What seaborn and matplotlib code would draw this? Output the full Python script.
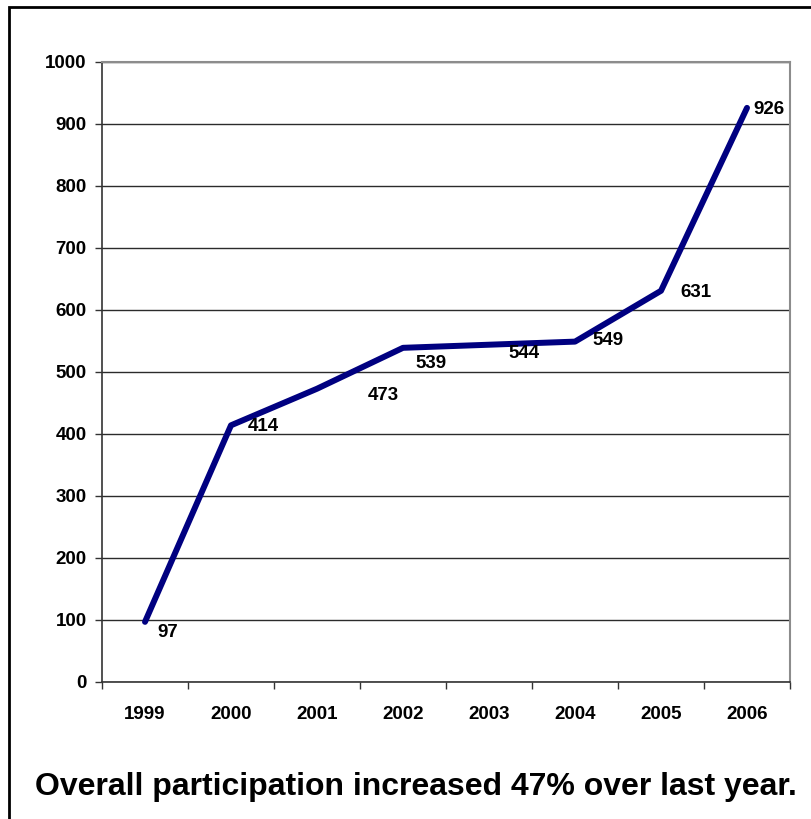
#!/usr/bin/env python3
"""
Participation by year, 1999-2006.
"""

import matplotlib
matplotlib.use("Agg")
import matplotlib.pyplot as plt
from matplotlib.patches import Rectangle
from matplotlib.ticker import FixedLocator, MultipleLocator
import seaborn as sns
import pandas as pd

years = ["1999", "2000", "2001", "2002", "2003", "2004", "2005", "2006"]
participants = [97, 414, 473, 539, 544, 549, 631, 926]
caption = "Overall participation increased 47% over last year."

# label centre offsets in points (hand placed in the original)
label_offsets = [(16.5, -8), (23, -1), (47.5, -5), (20, -11.5), (25, -6), (24, 1), (25, -1.5), (16, -1.5)]

sns.set_theme(style="white")
plt.rcParams["font.family"] = ["Liberation Sans", "DejaVu Sans"]

df = pd.DataFrame({"pos": range(len(years)), "year": years, "value": participants})

fig = plt.figure(figsize=(8.11, 8.19), dpi=100)
ax = fig.add_axes([102 / 811, 137 / 819, 688 / 811, 620 / 819])

sns.lineplot(data=df, x="pos", y="value", ax=ax, color="#000080",
             linewidth=4.3, solid_capstyle="round", solid_joinstyle="round")

for i, (v, off) in enumerate(zip(participants, label_offsets)):
    ax.annotate(str(v), (i, v), xytext=off, textcoords="offset points",
                ha="center", va="center", fontsize=13.5, fontweight="bold", color="black")

ax.set_xlim(-0.5, len(years) - 0.5)
ax.set_ylim(0, 1000)
ax.yaxis.set_major_locator(MultipleLocator(100))
ax.grid(axis="y", color="#2b2b2b", linewidth=1)
ax.set_axisbelow(True)

ax.xaxis.set_major_locator(FixedLocator(range(len(years))))
ax.set_xticklabels(years)
ax.xaxis.set_minor_locator(FixedLocator([i - 0.5 for i in range(len(years) + 1)]))
ax.tick_params(axis="x", which="major", length=0, pad=17)
ax.tick_params(axis="x", which="minor", length=5, width=1, color="#333333", direction="out", bottom=True)
ax.tick_params(axis="y", length=5, width=1, color="#333333", direction="out", left=True, pad=6)
for lab in ax.get_xticklabels() + ax.get_yticklabels():
    lab.set_fontweight("bold")
    lab.set_fontsize(13.5)
    lab.set_color("black")

ax.set_xlabel("")
ax.set_ylabel("")
for side in ["left", "bottom"]:
    ax.spines[side].set_color("#333333")
    ax.spines[side].set_linewidth(1.2)
for side in ["top", "right"]:
    ax.spines[side].set_visible(True)
    ax.spines[side].set_color("#8c8c8c")
    ax.spines[side].set_linewidth(1.5)

fig.text(416 / 811, 1 - 787 / 819, caption, ha="center", va="center",
         fontsize=23, fontweight="bold", color="black")

# outer frame (cut off at right and bottom)
fig.add_artist(Rectangle((9 / 811, -0.1), 1.2, 1.1 - 7 / 819, transform=fig.transFigure,
                         fill=False, edgecolor="black", linewidth=2))

fig.savefig("out.png", dpi=100)
